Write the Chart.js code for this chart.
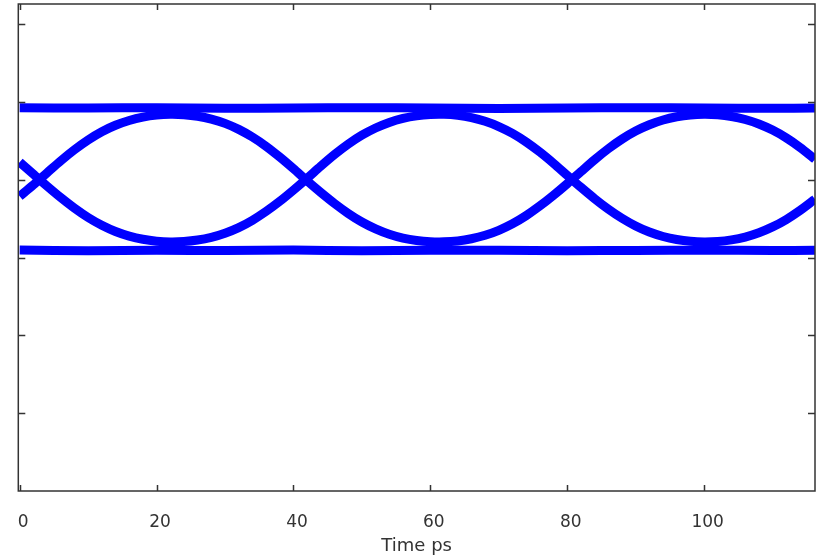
<!DOCTYPE html>
<html>
<head>
<meta charset="utf-8">
<script src="https://cdn.jsdelivr.net/npm/chart.js@4/dist/chart.umd.min.js"></script>
<style>
  html, body { margin: 0; padding: 0; background: #fff; }
  #wrap { width: 821px; height: 559px; }
</style>
</head>
<body>
<div id="wrap"><canvas id="eye"></canvas></div>
<script>
// time axis (ps) for the transition traces
const timePs = [0, 2, 4, 6, 8, 10, 12, 14, 16, 18, 20, 22, 24, 26, 28, 30, 32, 34, 36, 38,
  40, 42, 44, 46, 48, 50, 52, 54, 56, 58, 60, 62, 64, 66, 68, 70, 72, 74, 76, 78,
  80, 82, 84, 86, 88, 90, 92, 94, 96, 98, 100, 102, 104, 106, 108, 110, 112, 114, 116, 116.2];

// trace A: falls at ~3 ps, rises at ~42, falls at ~81
const traceA = [0.225, 0.070, -0.083, -0.230, -0.366, -0.486, -0.586, -0.666, -0.725, -0.766,
  -0.790, -0.800, -0.795, -0.776, -0.741, -0.688, -0.616, -0.522, -0.408, -0.278,
  -0.134, 0.017, 0.173, 0.322, 0.456, 0.571, 0.664, 0.736, 0.787, 0.820,
  0.837, 0.839, 0.826, 0.797, 0.750, 0.683, 0.595, 0.485, 0.355, 0.210,
  0.055, -0.098, -0.244, -0.378, -0.496, -0.595, -0.673, -0.730, -0.769, -0.792,
  -0.800, -0.794, -0.773, -0.737, -0.682, -0.607, -0.512, -0.396, -0.264, -0.250];

// trace B: the complementary transitions
const traceB = [-0.214, -0.067, 0.088, 0.242, 0.384, 0.510, 0.616, 0.699, 0.761, 0.804,
  0.830, 0.840, 0.835, 0.815, 0.778, 0.723, 0.646, 0.548, 0.429, 0.291,
  0.141, -0.016, -0.165, -0.306, -0.434, -0.544, -0.632, -0.701, -0.750, -0.781,
  -0.797, -0.799, -0.787, -0.759, -0.715, -0.651, -0.567, -0.462, -0.338, -0.200,
  -0.052, 0.103, 0.256, 0.397, 0.521, 0.625, 0.706, 0.767, 0.808, 0.832,
  0.840, 0.834, 0.812, 0.773, 0.716, 0.637, 0.537, 0.416, 0.277, 0.262];

// steady "1" and "0" levels
const levelTime = [0, 10, 20, 30, 40, 50, 60, 70, 80, 90, 100, 110, 116.2];
const levelHigh = [0.925, 0.920, 0.925, 0.917, 0.920, 0.925, 0.921, 0.915, 0.920, 0.925, 0.920, 0.917, 0.920];
const levelLow = [-0.905, -0.912, -0.908, -0.910, -0.905, -0.912, -0.908, -0.906, -0.912, -0.910, -0.906, -0.910, -0.908];

const xTicks = [0, 20, 40, 60, 80, 100];
const yTicks = [-3, -2, -1, 0, 1, 2];

const toPts = (xs, ys) => xs.map((x, i) => ({ x: x, y: ys[i] }));
const blue = '#0000ff';

function trace(xs, ys) {
  return {
    data: toPts(xs, ys),
    borderColor: blue,
    borderWidth: 9,
    pointRadius: 0,
    tension: 0.3,
    fill: false
  };
}

// frame with inward ticks on all four sides
const framePlugin = {
  id: 'frame',
  afterDraw(chart) {
    const { ctx, chartArea: a, scales } = chart;
    ctx.save();
    ctx.strokeStyle = '#333';
    ctx.lineWidth = 1.5;
    ctx.strokeRect(a.left, a.top, a.right - a.left, a.bottom - a.top);
    ctx.beginPath();
    xTicks.forEach(v => {
      const px = Math.round(scales.x.getPixelForValue(v)) + 0.5;
      ctx.moveTo(px, a.bottom); ctx.lineTo(px, a.bottom - 6);
      ctx.moveTo(px, a.top); ctx.lineTo(px, a.top + 6);
    });
    yTicks.forEach(v => {
      const py = Math.round(scales.y.getPixelForValue(v)) + 0.5;
      ctx.moveTo(a.left, py); ctx.lineTo(a.left + 7, py);
      ctx.moveTo(a.right, py); ctx.lineTo(a.right - 7, py);
    });
    ctx.stroke();
    ctx.restore();
  }
};

new Chart(document.getElementById('eye'), {
  type: 'line',
  data: {
    datasets: [
      trace(levelTime, levelHigh),
      trace(levelTime, levelLow),
      trace(timePs, traceA),
      trace(timePs, traceB)
    ]
  },
  options: {
    responsive: true,
    maintainAspectRatio: false,
    animation: false,
    layout: { padding: { left: 18.3, right: 6, top: 4, bottom: 0 } },
    plugins: { legend: { display: false }, tooltip: { enabled: false } },
    scales: {
      x: {
        type: 'linear',
        min: -0.2,
        max: 116.2,
        grid: { display: false, drawTicks: false },
        border: { display: false },
        afterFit: scale => { scale.paddingLeft = 0; scale.paddingRight = 0; },
        ticks: {
          stepSize: 20,
          includeBounds: false,
          padding: 21,
          labelOffset: 3.5,
          color: '#333',
          font: { family: 'DejaVu Sans', size: 17 },
          callback: v => xTicks.includes(v) ? String(v) : ''
        },
        title: {
          display: true,
          text: 'Time ps',
          color: '#333',
          padding: { top: -18, bottom: 2 },
          font: { family: 'DejaVu Sans', size: 18 }
        }
      },
      y: {
        display: false,
        min: -4,
        max: 2.257
      }
    }
  },
  plugins: [framePlugin]
});
</script>
</body>
</html>
